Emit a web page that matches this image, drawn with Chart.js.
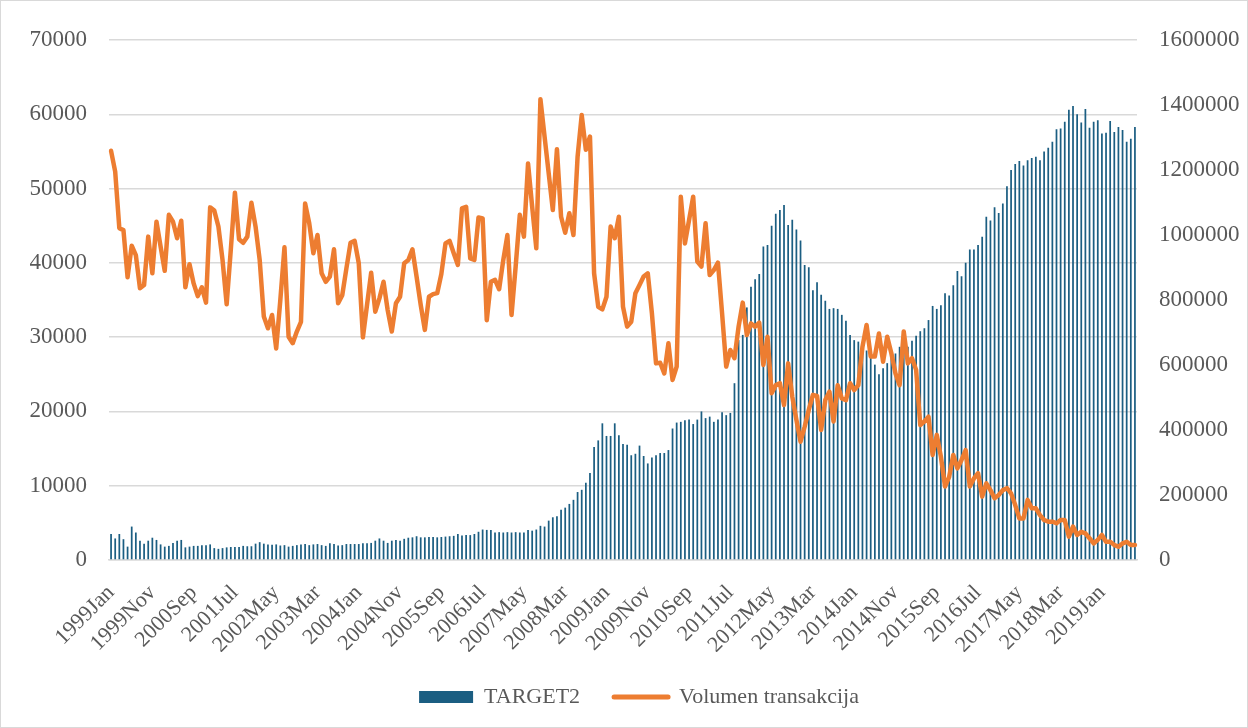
<!DOCTYPE html>
<html>
<head>
<meta charset="utf-8">
<script src="https://cdn.jsdelivr.net/npm/chart.js@4"></script>
<style>
  body{margin:0;background:#fff}
  #wrap{width:1248px;height:728px}
</style>
</head>
<body>
<div id="wrap"><canvas id="grafica" width="1248" height="728"></canvas></div>
<script>
//DATOS
const meses=["Jan","Feb","Mar","Apr","May","Jun","Jul","Aug","Sep","Oct","Nov","Dec"]
const anioInicio=1999
const totalMeses=249 // 1999Jan - 2019Sep

const etiquetas=[]
for(let i=0;i<totalMeses;i++){
    etiquetas.push((anioInicio+Math.floor(i/12))+meses[i%12])
}

// TARGET2 (eje izquierdo)
const target2=[
    3500,2900,3500,2800,1800,4500,3700,2600,2200,2600,
    3000,2700,2100,1800,1900,2300,2600,2700,1700,1800,
    1900,1900,2000,2000,2100,1600,1500,1600,1700,1750,
    1750,1750,1900,1850,1850,2200,2400,2200,2100,2050,
    2100,1950,2000,1800,1900,2000,2100,2150,2000,2100,
    2150,2000,1900,2250,2150,1950,2000,2150,2150,2150,
    2150,2250,2250,2300,2600,2900,2600,2300,2600,2700,
    2600,2850,3000,3050,3200,3050,3050,3100,3100,3050,
    3100,3150,3200,3250,3500,3300,3350,3350,3500,3800,
    4100,4050,4050,3700,3750,3700,3750,3700,3750,3700,
    3700,4050,3950,4100,4600,4500,5300,5750,5900,6750,
    7050,7550,8100,9150,9450,10400,11700,15200,16100,18400,
    16700,16700,18400,16800,15600,15500,14100,14300,15400,14000,
    13000,13800,14100,14400,14400,14800,17700,18500,18600,18800,
    18900,18300,18900,20000,19100,19300,18600,18900,19900,19500,
    19800,23800,29600,30300,34000,36800,37800,38500,42200,42400,
    45000,46600,47100,47800,45100,45800,44500,43000,39700,39400,
    36300,37400,35700,34900,33800,33900,33800,33000,32200,30300,
    29600,29400,29000,28200,27500,26300,25000,25800,26500,27200,
    27800,28700,29200,28700,29500,30200,30800,31200,32300,34200,
    33800,34300,35900,35600,37000,38900,38200,40000,41800,41800,
    42400,43500,46200,45700,47500,46700,48000,50300,52500,53300,
    53700,53100,53800,54100,54300,53800,55000,55500,56300,58000,
    58100,59000,60600,61100,60000,58900,60700,58200,59000,59200,
    57400,57500,59100,57600,58300,57900,56300,56700,58300
]

// Volumen transakcija (eje derecho)
const volumen=[
    1259000,1195000,1021000,1015000,870000,967000,938000,836000,846000,995000,
    882000,1041000,964000,890000,1062000,1041000,990000,1044000,839000,910000,
    851000,812000,839000,792000,1085000,1075000,1026000,923000,787000,954000,
    1130000,987000,976000,995000,1099000,1026000,923000,749000,713000,754000,
    651000,800000,962000,687000,667000,703000,733000,1097000,1036000,944000,
    1000000,882000,856000,872000,956000,790000,815000,897000,976000,982000,
    913000,685000,785000,884000,764000,805000,856000,769000,703000,790000,
    810000,913000,923000,956000,872000,785000,708000,810000,818000,821000,
    880000,974000,982000,944000,908000,1082000,1087000,928000,923000,1054000,
    1051000,738000,856000,862000,833000,923000,1000000,754000,903000,1062000,
    995000,1220000,1087000,959000,1418000,1303000,1190000,1077000,1264000,1056000,
    1007000,1067000,1000000,1241000,1369000,1262000,1303000,882000,779000,771000,
    810000,1026000,990000,1056000,779000,718000,733000,821000,846000,872000,
    882000,759000,605000,607000,574000,667000,554000,595000,1118000,974000,
    1046000,1118000,918000,903000,1036000,877000,892000,915000,759000,595000,
    646000,621000,718000,792000,692000,728000,718000,730000,600000,687000,
    513000,538000,544000,477000,605000,503000,431000,364000,410000,462000,
    508000,505000,400000,492000,518000,426000,538000,497000,492000,544000,
    523000,538000,656000,723000,626000,626000,697000,610000,687000,636000,
    574000,538000,703000,605000,621000,585000,415000,426000,441000,323000,
    385000,318000,226000,256000,323000,282000,308000,338000,226000,251000,
    267000,195000,236000,215000,190000,200000,215000,221000,205000,169000,
    128000,128000,185000,159000,159000,138000,123000,118000,118000,113000,
    123000,123000,72000,103000,77000,87000,82000,67000,51000,62000,
    77000,56000,56000,46000,41000,51000,56000,46000,46000
]

const ticksIzq={min:0,max:70000,paso:10000}
const ticksDer={min:0,max:1600000,paso:200000}

//ESTILOS
const azul="#1b5e82"
const naranja="#ed7d31"
const gris="#595959"
const grisLinea="#d9d9d9"
const fuente="'Liberation Serif', 'Times New Roman', serif"

//GRAFICA
const marco={
    id:"marco",
    afterDraw(chart){
        const c=chart.ctx
        c.save()
        c.strokeStyle=grisLinea
        c.lineWidth=1
        c.strokeRect(0.5,0.5,chart.width-1,chart.height-1)
        c.restore()
    }
}

const sinComas=v=>String(v)

const config={
    data:{
        labels:etiquetas,
        datasets:[
            {
                type:"bar",
                label:"TARGET2",
                data:target2,
                backgroundColor:azul,
                barPercentage:0.42,
                categoryPercentage:1,
                yAxisID:"y",
                order:1
            },
            {
                type:"line",
                label:"Volumen transakcija",
                data:volumen,
                borderColor:naranja,
                backgroundColor:naranja,
                borderWidth:4.5,
                borderJoinStyle:"round",
                borderCapStyle:"round",
                pointRadius:0,
                tension:0,
                yAxisID:"y1",
                order:0
            }
        ]
    },
    options:{
        responsive:false,
        devicePixelRatio:1,
        animation:false,
        layout:{padding:{top:40,left:30,right:0,bottom:10}},
        plugins:{
            tooltip:{enabled:false},
            legend:{
                position:"bottom",
                labels:{
                    usePointStyle:true,
                    pointStyleWidth:54,
                    boxHeight:12,
                    padding:34,
                    color:gris,
                    font:{family:fuente,size:22},
                    generateLabels(){
                        return [
                            {text:"TARGET2",fillStyle:azul,strokeStyle:azul,lineWidth:0,pointStyle:"rect",datasetIndex:0,hidden:false,fontColor:gris},
                            {text:"Volumen transakcija",fillStyle:naranja,strokeStyle:naranja,lineWidth:5,lineCap:"round",pointStyle:"line",datasetIndex:1,hidden:false,fontColor:gris}
                        ]
                    }
                }
            }
        },
        scales:{
            x:{
                grid:{display:false,drawTicks:false},
                border:{display:true,color:grisLinea,width:1.5},
                ticks:{
                    autoSkip:false,
                    maxRotation:45,
                    minRotation:45,
                    padding:20,
                    color:gris,
                    font:{family:fuente,size:22},
                    callback:(v,i)=>i%10===0?etiquetas[i]:null
                },
                afterFit(s){
                    s.height=s.chart.height-10-s.chart.legend.height-560
                }
            },
            y:{
                position:"left",
                min:ticksIzq.min,
                max:ticksIzq.max,
                ticks:{stepSize:ticksIzq.paso,padding:22,color:gris,font:{family:fuente,size:23},callback:sinComas},
                grid:{color:grisLinea,lineWidth:1.5,drawTicks:false},
                border:{display:false},
                afterFit(s){s.width=79}
            },
            y1:{
                position:"right",
                min:ticksDer.min,
                max:ticksDer.max,
                ticks:{stepSize:ticksDer.paso,padding:22,color:gris,font:{family:fuente,size:23},callback:sinComas},
                grid:{display:false,drawTicks:false},
                border:{display:false},
                afterFit(s){s.width=111}
            }
        }
    },
    plugins:[marco]
}

const grafica=new Chart(document.querySelector("#grafica"),config)
</script>
</body>
</html>
